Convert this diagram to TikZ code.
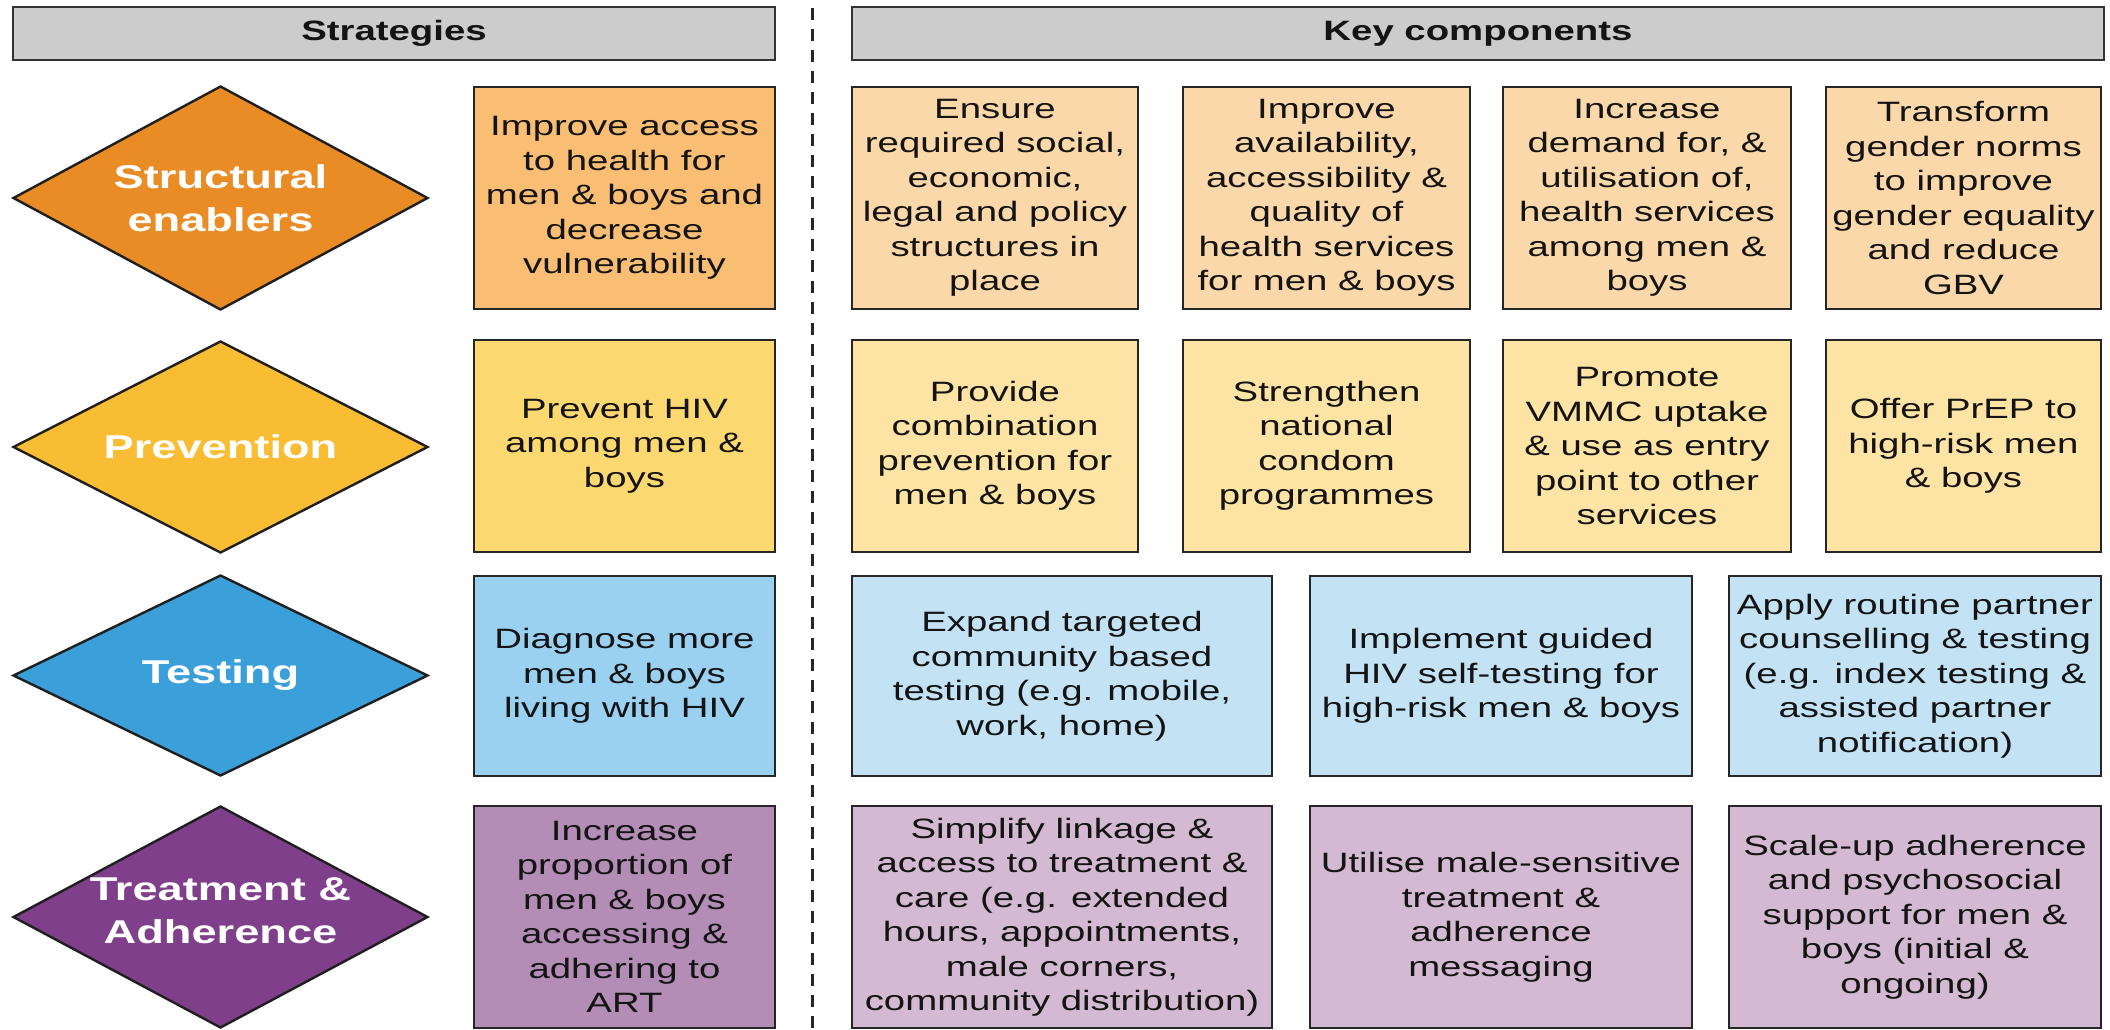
\documentclass[tikz,border=0pt]{standalone}
\usepackage{fontspec}
\setmainfont{Liberation Sans}[FakeStretch=1.37]
\usetikzlibrary{shapes.geometric}
\definecolor{hdrgray}{RGB}{204,204,204}
\definecolor{dOrange}{RGB}{233,140,38}
\definecolor{sOrange}{RGB}{249,189,115}
\definecolor{cOrange}{RGB}{251,216,170}
\definecolor{dYellow}{RGB}{248,189,51}
\definecolor{sYellow}{RGB}{252,217,112}
\definecolor{cYellow}{RGB}{253,228,165}
\definecolor{dBlue}{RGB}{59,159,218}
\definecolor{sBlue}{RGB}{154,208,240}
\definecolor{cBlue}{RGB}{195,227,245}
\definecolor{dPurple}{RGB}{127,63,138}
\definecolor{sPurple}{RGB}{179,141,181}
\definecolor{cPurple}{RGB}{211,186,210}
\begin{document}
\begin{tikzpicture}[x=1pt,y=-1pt,
  box/.style={draw=black!85, line width=2.6pt, rectangle, inner sep=0pt, align=center,
    font=\fontsize{28}{34.5}\selectfont, text=black!92},
  hdr/.style={draw=black!80, line width=2.6pt, fill=hdrgray, rectangle, inner sep=0pt,
    font=\fontsize{28}{34}\selectfont\bfseries, text=black!92},
  dia/.style={diamond, draw=black!88, line width=2.4pt, inner sep=0pt, minimum width=415pt},
  dtext/.style={text=white, font=\fontsize{33}{43}\selectfont\bfseries, align=center, inner sep=0pt},
  sepline/.style={draw=black!85, line width=3pt, dash pattern=on 12pt off 9pt}
]
\useasboundingbox[fill=white] (0,0) rectangle (2110,1029);

% headers
\node[hdr, minimum width=762pt, minimum height=53pt] (h1) at (394,33.5) {Strategies};
\node[hdr, minimum width=1252pt, minimum height=53pt] (h2) at (1478,33.5) {Key components};

% separator
\coordinate (dtop) at (812,8);
\coordinate (dbot) at (812,1029);
\draw[sepline] (dtop) -- (dbot);

% diamonds
\node[dia, fill=dOrange, minimum height=224pt] (d1) at (220.5,198) {};
\node[dtext] (d1t) at (d1) {Structural\\enablers};
\node[dia, fill=dYellow, minimum height=212pt] (d2) at (220.5,447) {};
\node[dtext] (d2t) at (d2) {Prevention};
\node[dia, fill=dBlue, minimum height=201pt] (d3) at (220.5,675.5) {};
\node[dtext] (d3t) at (d3) {Testing};
\node[dia, fill=dPurple, minimum height=222pt] (d4) at (220.5,917) {};
\node[dtext] (d4t) at ([yshift=6pt]d4.center) {Treatment \&\\Adherence};

% strategy boxes
\node[box, fill=sOrange, minimum width=301pt, minimum height=222pt] (s1) at (624.5,198)
  {Improve access\\to health for\\men \& boys and\\decrease\\vulnerability};
\node[box, fill=sYellow, minimum width=301pt, minimum height=212pt] (s2) at (624.5,446)
  {Prevent HIV\\among men \&\\boys};
\node[box, fill=sBlue, minimum width=301pt, minimum height=200pt] (s3) at (624.5,676)
  {Diagnose more\\men \& boys\\living with HIV};
\node[box, fill=sPurple, minimum width=301pt, minimum height=222pt] (s4) at (624.5,917)
  {Increase\\proportion of\\men \& boys\\accessing \&\\adhering to\\ART};

% row 1 components
\node[box, fill=cOrange, minimum width=286pt, minimum height=222pt] (c11) at (995,198)
  {Ensure\\required social,\\economic,\\legal and policy\\structures in\\place};
\node[box, fill=cOrange, minimum width=287pt, minimum height=222pt] (c12) at (1326.5,198)
  {Improve\\availability,\\accessibility \&\\quality of\\health services\\for men \& boys};
\node[box, fill=cOrange, minimum width=288pt, minimum height=222pt] (c13) at (1647,198)
  {Increase\\demand for, \&\\utilisation of,\\health services\\among men \&\\boys};
\node[box, fill=cOrange, minimum width=275pt, minimum height=222pt] (c14) at (1963.5,198)
  {Transform\\gender norms\\to improve\\gender equality\\and reduce\\GBV};

% row 2 components
\node[box, fill=cYellow, minimum width=286pt, minimum height=212pt] (c21) at (995,446)
  {Provide\\combination\\prevention for\\men \& boys};
\node[box, fill=cYellow, minimum width=287pt, minimum height=212pt] (c22) at (1326.5,446)
  {Strengthen\\national\\condom\\programmes};
\node[box, fill=cYellow, minimum width=288pt, minimum height=212pt] (c23) at (1647,446)
  {Promote\\VMMC uptake\\\& use as entry\\point to other\\services};
\node[box, fill=cYellow, minimum width=275pt, minimum height=212pt] (c24) at (1963.5,446)
  {Offer PrEP to\\high-risk men\\\& boys};

% row 3 components
\node[box, fill=cBlue, minimum width=420pt, minimum height=200pt] (c31) at (1062,676)
  {Expand targeted\\community based\\testing (e.g. mobile,\\work, home)};
\node[box, fill=cBlue, minimum width=382pt, minimum height=200pt] (c32) at (1501,676)
  {Implement guided\\HIV self-testing for\\high-risk men \& boys};
\node[box, fill=cBlue, minimum width=372pt, minimum height=200pt] (c33) at (1915,676)
  {Apply routine partner\\counselling \& testing\\(e.g. index testing \&\\assisted partner\\notification)};

% row 4 components
\node[box, fill=cPurple, minimum width=420pt, minimum height=222pt] (c41) at (1062,917)
  {Simplify linkage \&\\access to treatment \&\\care (e.g. extended\\hours, appointments,\\male corners,\\community distribution)};
\node[box, fill=cPurple, minimum width=382pt, minimum height=222pt] (c42) at (1501,917)
  {Utilise male-sensitive\\treatment \&\\adherence\\messaging};
\node[box, fill=cPurple, minimum width=372pt, minimum height=222pt] (c43) at (1915,917)
  {Scale-up adherence\\and psychosocial\\support for men \&\\boys (initial \&\\ongoing)};
\end{tikzpicture}
\end{document}
